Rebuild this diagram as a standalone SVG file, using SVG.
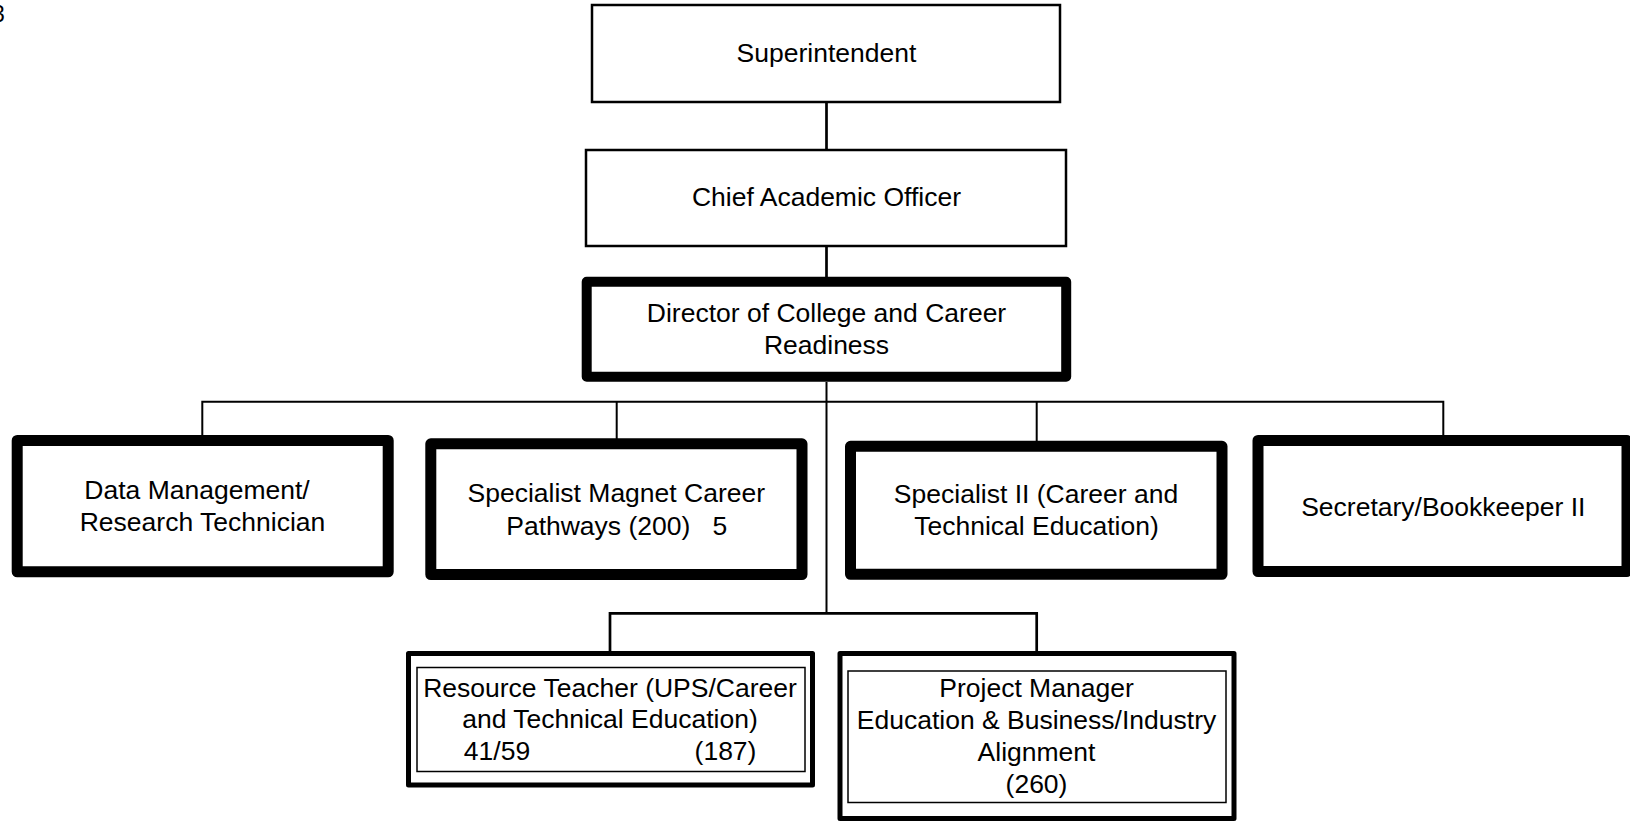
<svg xmlns="http://www.w3.org/2000/svg" width="1630" height="822" viewBox="0 0 1630 822">
<style>
.t{font-family:"Liberation Sans",Arial,sans-serif;font-size:26.5px;fill:#000;text-anchor:middle}
.thin{fill:#fff;stroke:#000;stroke-width:2.5}
.thick{fill:#fff;stroke:#000;stroke-width:11;stroke-linejoin:round}
.dbl{fill:#fff;stroke:#000;stroke-width:5;stroke-linejoin:round}
.inner{fill:none;stroke:#000;stroke-width:1.5}
.c{fill:none;stroke:#000;stroke-width:2}
.c2{fill:none;stroke:#000;stroke-width:2.7}
</style>
<rect width="1630" height="822" fill="#fff"/>
<text x="-8" y="21.5" font-family="Liberation Sans, Arial, sans-serif" font-size="23">3</text>
<g id="connectors">
<path class="c2" d="M826.5 102V150M826.5 246V277"/>
<path class="c" d="M826.5 382V613.3"/>
<path class="c" d="M202.3 436V401.7H1443.3V436"/>
<path class="c" d="M616.7 401.7V439"/>
<path class="c" d="M1036.7 401.7V442"/>
<path class="c2" d="M610 652V613.3H1036.7V652"/>
</g>
<g id="superintendent">
<rect class="thin" x="592" y="5" width="468" height="97"/>
<text class="t" x="826.5" y="62">Superintendent</text>
</g>
<g id="chief">
<rect class="thin" x="586" y="150" width="480" height="96"/>
<text class="t" x="826.5" y="205.5">Chief Academic Officer</text>
</g>
<g id="director">
<rect x="586.7" y="281.7" width="479.5" height="95" fill="#fff" stroke="#000" stroke-width="10" stroke-linejoin="round"/>
<text class="t" x="826.5" y="322">Director of College and Career</text>
<text class="t" x="826.5" y="353.5">Readiness</text>
</g>
<g id="data">
<rect class="thick" x="17.2" y="440.5" width="371" height="131.3"/>
<text class="t" x="197" y="499">Data Management/</text>
<text class="t" x="202.5" y="531">Research Technician</text>
</g>
<g id="magnet">
<rect class="thick" x="430.8" y="443.8" width="371.2" height="130.7"/>
<text class="t" x="616.3" y="502">Specialist Magnet Career</text>
<text class="t" x="616.7" y="534.5" xml:space="preserve">Pathways (200)   5</text>
</g>
<g id="specialist2">
<rect class="thick" x="850.5" y="446.3" width="371.5" height="128"/>
<text class="t" x="1036" y="503">Specialist II (Career and</text>
<text class="t" x="1036.5" y="535">Technical Education)</text>
</g>
<g id="secretary">
<rect class="thick" x="1258" y="440.5" width="369" height="131"/>
<text class="t" x="1443.3" y="515.5">Secretary/Bookkeeper II</text>
</g>
<g id="resource">
<rect class="dbl" x="408.5" y="653.5" width="404" height="131.5"/>
<rect class="inner" x="417" y="667.5" width="388" height="104"/>
<text class="t" x="610" y="696.5">Resource Teacher (UPS/Career</text>
<text class="t" x="610" y="727.5">and Technical Education)</text>
<text class="t" x="497" y="759.5">41/59</text>
<text class="t" x="725.5" y="759.5">(187)</text>
</g>
<g id="project">
<rect class="dbl" x="840" y="653.5" width="394" height="165"/>
<rect class="inner" x="848" y="671" width="378" height="131.5"/>
<text class="t" x="1036.5" y="696.5">Project Manager</text>
<text class="t" x="1036.5" y="728.5">Education &amp; Business/Industry</text>
<text class="t" x="1036.5" y="760.5">Alignment</text>
<text class="t" x="1036.5" y="792.5">(260)</text>
</g>
</svg>
